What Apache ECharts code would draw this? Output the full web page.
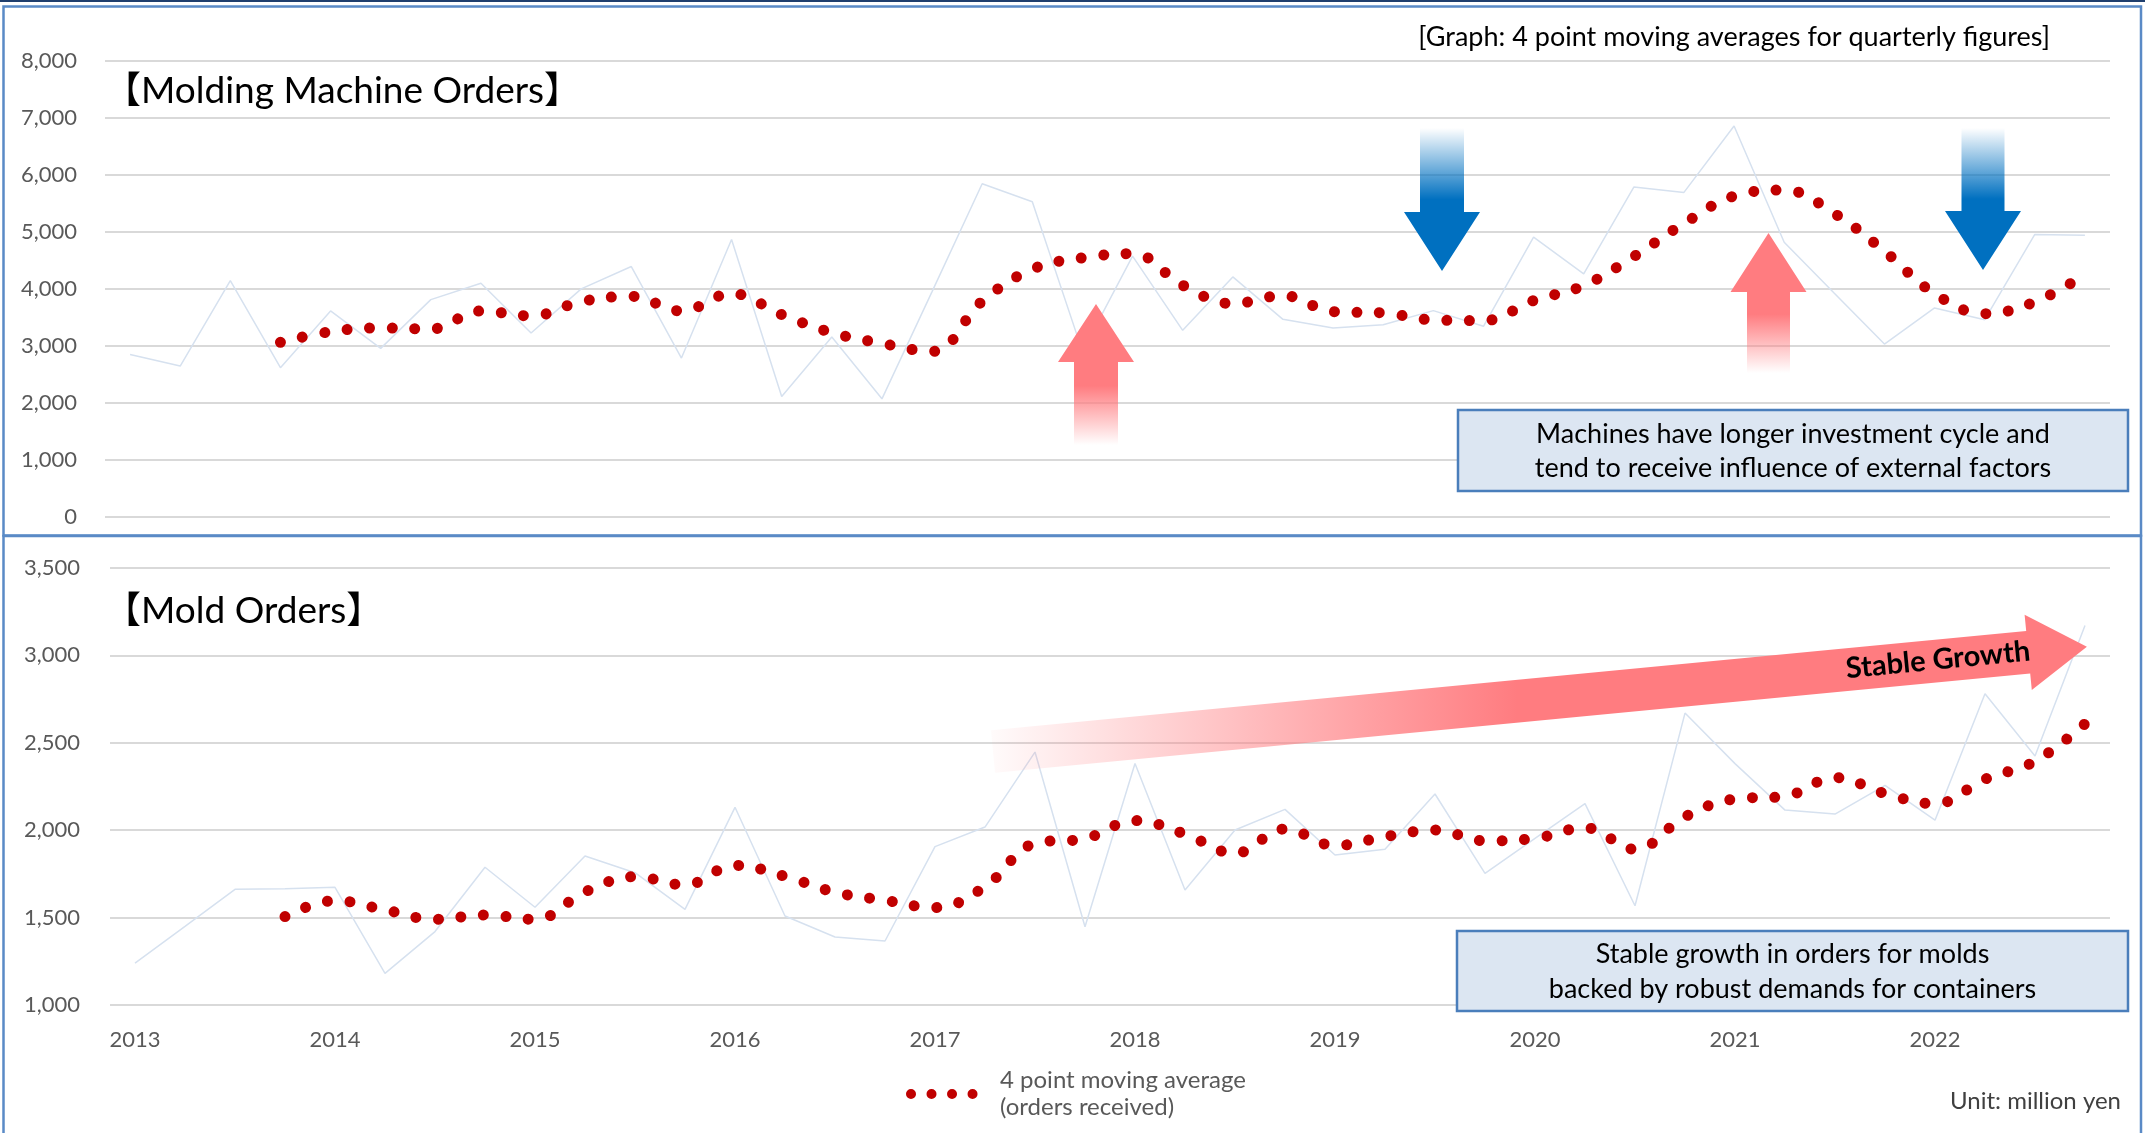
<!DOCTYPE html>
<html>
<head>
<meta charset="utf-8">
<title>Molding Machine Orders / Mold Orders</title>
<script src="https://cdn.jsdelivr.net/npm/echarts@6/dist/echarts.min.js"></script>
<style>
  html, body { margin: 0; padding: 0; background: #fff; }
  #chart { width: 2145px; height: 1133px; }
</style>
</head>
<body>
<div id="chart"></div>
<script>
// quarterly categories, 2013 Q1 .. 2022 Q4
const years = [2013, 2014, 2015, 2016, 2017, 2018, 2019, 2020, 2021, 2022];
const quarters = ['Q1', 'Q2', 'Q3', 'Q4'];

// molding machine orders (million yen)
const machineOrders = [
  2847, 2642, 4144, 2613, 3610, 2953, 3809, 4097, 3223, 3997,
  4390, 2783, 4865, 2108, 3152, 2067, 3950, 5845, 5528, 2900,
  4572, 3270, 4208, 3463, 3311, 3369, 3616, 3340, 4906, 4261,
  5786, 5692, 6859, 4818, 3921, 3029, 3663, 3457, 4953, 4941
];
const machineAverage = [
  null, null, null, 3059, 3246, 3311, 3293, 3610, 3522, 3774,
  3866, 3610, 3915, 3546, 3229, 3041, 2900, 3780, 4343, 4543,
  4617, 4061, 3739, 3880, 3598, 3575, 3452, 3440, 3792, 4055,
  4566, 5146, 5628, 5733, 5322, 4660, 3915, 3563, 3768, 4250
];

// mold orders (million yen)
const moldOrders = [
  1239, 1450, 1662, 1665, 1673, 1181, 1420, 1788, 1559, 1852,
  1757, 1547, 2131, 1509, 1389, 1366, 1906, 2018, 2447, 1448,
  2382, 1658, 2001, 2119, 1858, 1891, 2207, 1753, 1953, 2152,
  1568, 2670, 2381, 2115, 2092, 2257, 2057, 2781, 2425, 3171
];
const moldAverage = [
  null, null, null, 1506, 1597, 1544, 1490, 1515, 1490, 1647,
  1734, 1687, 1799, 1736, 1645, 1599, 1557, 1677, 1925, 1952,
  2055, 1978, 1868, 2007, 1912, 1963, 2001, 1939, 1953, 2014,
  1891, 2077, 2179, 2194, 2301, 2210, 2151, 2292, 2394, 2609
];

const categories = years.flatMap(y => quarters.map(q => y + ' ' + q));

const MA_NAME = '4 point moving average\n(orders received)';
const FONT = 'Lato, "Noto Sans CJK JP", "Noto Sans", sans-serif';
const AXIS_GRAY = '#595959';
const GRID_GRAY = '#d9d9d9';
const RAW_COLOR = '#d6e1ef';
const DOT_RED = '#c00000';
const PINK = '#ff7c80';
const BLUE = '#0070c0';
const BORDER = '#5a8ac6';

const dotLine = { color: DOT_RED, width: 11, type: [0.01, 22.6], cap: 'round' };

const upArrow = (cx, tip, base, bottom, hh, sh) => ({
  type: 'polygon',
  z: 10,
  shape: {
    points: [[cx, tip], [cx + hh, base], [cx + sh, base], [cx + sh, bottom],
             [cx - sh, bottom], [cx - sh, base], [cx - hh, base]]
  },
  style: {
    fill: new echarts.graphic.LinearGradient(0, 0, 0, 1, [
      { offset: 0, color: PINK },
      { offset: 0.58, color: PINK },
      { offset: 1, color: 'rgba(255,124,128,0)' }
    ])
  }
});

const downArrow = (cx, top, base, tip, hh, sh) => ({
  type: 'polygon',
  z: 10,
  shape: {
    points: [[cx - sh, top], [cx + sh, top], [cx + sh, base], [cx + hh, base],
             [cx, tip], [cx - hh, base], [cx - sh, base]]
  },
  style: {
    fill: new echarts.graphic.LinearGradient(0, 0, 0, 1, [
      { offset: 0, color: 'rgba(0,112,192,0)' },
      { offset: 0.5, color: BLUE },
      { offset: 1, color: BLUE }
    ])
  }
});

const label = (x, y, text, size, extra) => ({
  type: 'text',
  z: 20,
  x: x,
  y: y,
  style: Object.assign({
    text: text,
    fontSize: size,
    fontFamily: FONT,
    fill: '#000',
    align: 'left',
    textAlign: 'left',
    verticalAlign: 'middle',
    textVerticalAlign: 'middle'
  }, extra || {})
});

const noteBox = (x, y, w, h, text, lineH) => ([
  {
    type: 'rect', z: 15,
    shape: { x: x, y: y, width: w, height: h },
    style: { fill: '#dce6f2', stroke: '#4a7ebb', lineWidth: 2.5 }
  },
  label(x + w / 2, y + h / 2 + 1, text, 27,
    { align: 'center', textAlign: 'center', lineHeight: lineH })
]);

const chart = echarts.init(document.getElementById('chart'));

chart.setOption({
  animation: false,
  backgroundColor: '#fff',
  textStyle: { fontFamily: FONT },
  grid: [
    { left: 105, right: 35, top: 61, height: 455.5 },
    { left: 110, right: 35, top: 568, height: 437 }
  ],
  xAxis: [
    {
      gridIndex: 0, type: 'category', data: categories, boundaryGap: true,
      axisLine: { show: false }, axisTick: { show: false }, axisLabel: { show: false }
    },
    {
      gridIndex: 1, type: 'category', data: categories, boundaryGap: true,
      axisLine: { show: false }, axisTick: { show: false },
      axisLabel: {
        interval: 3,
        formatter: v => v.slice(0, 4),
        fontSize: 22, color: AXIS_GRAY, margin: 24
      }
    }
  ],
  yAxis: [
    {
      gridIndex: 0, type: 'value', min: 0, max: 8000, interval: 1000,
      axisLine: { show: false }, axisTick: { show: false },
      axisLabel: { fontSize: 22, color: AXIS_GRAY, margin: 28 },
      splitLine: { lineStyle: { color: GRID_GRAY, width: 2 } }
    },
    {
      gridIndex: 1, type: 'value', min: 1000, max: 3500, interval: 500,
      axisLine: { show: false }, axisTick: { show: false },
      axisLabel: { fontSize: 22, color: AXIS_GRAY, margin: 30 },
      splitLine: { lineStyle: { color: GRID_GRAY, width: 2 } }
    }
  ],
  legend: {
    data: [MA_NAME],
    left: 906,
    top: 1067,
    padding: 0,
    itemWidth: 64,
    itemHeight: 12,
    textStyle: { fontSize: 24, color: AXIS_GRAY, lineHeight: 27, padding: [0, 0, 0, 20] },
    lineStyle: { width: 10, type: [0.01, 20.5], cap: 'round', color: DOT_RED },
    itemStyle: { opacity: 0 }
  },
  series: [
    {
      name: 'Molding machine orders', type: 'line', xAxisIndex: 0, yAxisIndex: 0,
      data: machineOrders, symbol: 'none', silent: true, z: 1,
      lineStyle: { color: RAW_COLOR, width: 1.5 }, itemStyle: { color: RAW_COLOR }
    },
    {
      name: MA_NAME, type: 'line', xAxisIndex: 0, yAxisIndex: 0,
      data: machineAverage, symbol: 'none', smooth: 0.4, z: 3,
      lineStyle: dotLine, itemStyle: { color: DOT_RED }
    },
    {
      name: 'Mold orders', type: 'line', xAxisIndex: 1, yAxisIndex: 1,
      data: moldOrders, symbol: 'none', silent: true, z: 1,
      lineStyle: { color: RAW_COLOR, width: 1.5 }, itemStyle: { color: RAW_COLOR }
    },
    {
      name: MA_NAME, type: 'line', xAxisIndex: 1, yAxisIndex: 1,
      data: moldAverage, symbol: 'none', smooth: 0.4, z: 3,
      lineStyle: dotLine, itemStyle: { color: DOT_RED }
    }
  ],
  graphic: [
    // frame
    { type: 'rect', z: 30, shape: { x: 0, y: 0, width: 2145, height: 2 }, style: { fill: '#1f3f6e' } },
    { type: 'rect', z: 30, shape: { x: 3.5, y: 6.5, width: 2137.5, height: 529 },
      style: { fill: 'none', stroke: BORDER, lineWidth: 2.5 } },
    { type: 'rect', z: 30, shape: { x: 3.5, y: 536, width: 2137.5, height: 610 },
      style: { fill: 'none', stroke: BORDER, lineWidth: 2.5 } },

    // titles
    label(104, 91, '【Molding Machine Orders】', 37),
    label(104, 611, '【Mold Orders】', 37),
    label(2050, 37, '[Graph: 4 point moving averages for quarterly figures]', 27,
      { align: 'right', textAlign: 'right' }),
    label(2121, 1101, 'Unit: million yen', 24,
      { align: 'right', textAlign: 'right', fill: '#404040' }),

    // cycle arrows on the machine chart
    upArrow(1096, 304, 362, 445, 38, 22),
    upArrow(1768.5, 233, 292, 373, 38, 21.5),
    downArrow(1442, 128, 212, 271, 38, 22),
    downArrow(1983, 128, 211, 270, 38, 21.5),

    // stable growth arrow on the mold chart
    {
      type: 'polygon', z: 10,
      shape: {
        points: [[991, 730.2], [2026.2, 631], [2024.6, 614.7], [2086.9, 646.7],
                 [2031.8, 689.9], [2030.2, 673.6], [995, 772.8]]
      },
      style: {
        fill: new echarts.graphic.LinearGradient(0, 0, 1, 0, [
          { offset: 0, color: 'rgba(255,124,128,0.03)' },
          { offset: 0.48, color: PINK },
          { offset: 1, color: PINK }
        ])
      }
    },
    {
      type: 'text', z: 20, x: 1938, y: 660, rotation: 0.096,
      style: {
        text: 'Stable Growth', fontSize: 29, fontWeight: 'bold', fontFamily: FONT, fill: '#000',
        align: 'center', textAlign: 'center', verticalAlign: 'middle', textVerticalAlign: 'middle'
      }
    },

    // note boxes
    ...noteBox(1458, 410, 670, 81,
      'Machines have longer investment cycle and\ntend to receive influence of external factors', 34),
    ...noteBox(1457, 931, 671, 80,
      'Stable growth in orders for molds\nbacked by robust demands for containers', 35)
  ]
});
</script>
</body>
</html>
